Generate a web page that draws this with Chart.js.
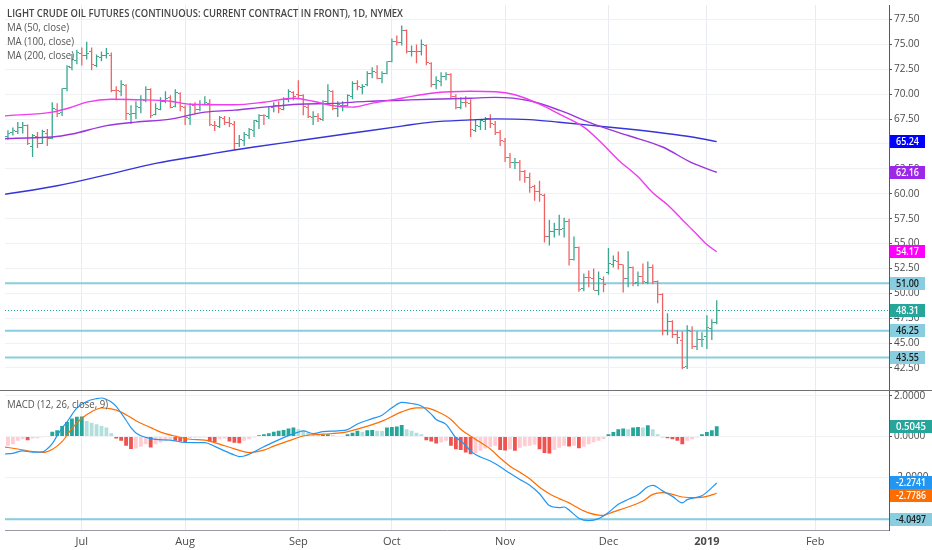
<!DOCTYPE html>
<html lang="en"><head><meta charset="utf-8"><title>Light Crude Oil Futures</title>
<script src="https://cdn.jsdelivr.net/npm/chart.js@4.4.1/dist/chart.umd.min.js"></script>
<style>
html,body{margin:0;padding:0;background:#fff;overflow:hidden}
#wrap{position:relative;width:932px;height:550px}
#c{position:absolute;left:0;top:0;width:932px;height:550px}
.lg{position:absolute;left:7px;white-space:nowrap;font-family:"Open Sans",sans-serif;color:#555;line-height:14px;transform-origin:0 50%}
</style></head>
<body><div id="wrap"><canvas id="c" width="932" height="550"></canvas>
<div class="lg" id="lgTitle" style="top:6px;font-size:10.5px;font-weight:600;color:#454545">LIGHT CRUDE OIL FUTURES (CONTINUOUS: CURRENT CONTRACT IN FRONT), 1D, NYMEX</div>
<div class="lg" id="lg50" style="top:20px;font-size:11px">MA (50, close)</div>
<div class="lg" id="lg100" style="top:34px;font-size:11px">MA (100, close)</div>
<div class="lg" id="lg200" style="top:48px;font-size:11px">MA (200, close)</div>
<div class="lg" id="lgMacd" style="top:397px;font-size:11px">MACD (12, 26, close, 9)</div>
</div>
<script>
// ---- daily bars, index 0 = first visible session (Jun 11, 2018) ----
const opens = [65.73,66.15,66.30,66.70,66.87,64.70,65.80,65.10,66.10,65.60,
  68.50,68.20,70.60,72.70,73.40, 74.10,73.90,74.30,72.90,73.70, 73.90,73.90,70.40,70.30,70.90,
  68.00,68.10,68.70,69.40,70.50, 68.00,68.50,69.30,69.70,68.80, 70.10,
  68.70,67.60,68.90,68.50,69.00, 69.10,66.90,66.80,67.60,67.20, 67.00,65.00,65.40,65.90,66.40,
  67.30,67.90,67.80,68.70,68.90, 68.50,69.50,70.20,
  70.00,69.90,68.70,67.70,67.80, 67.50,69.30,70.30,68.60,68.90, 68.90,69.80,71.10,70.70,71.00,
  72.10,72.20,71.60,72.10,
  73.30,75.30,75.20,76.40,74.30, 74.30,74.30,74.90,73.10,71.00, 71.30,71.80,72.00,69.80,68.70,
  69.20,69.10,66.40,66.80,67.30, 67.60,67.00,66.20,
  65.30,63.60,63.10,63.10,62.20, 61.60,60.70,60.20,59.80,55.70, 56.20,56.40,56.50,57.20,53.40,
  54.60,50.50,51.60,51.50,50.30, 51.40,
  52.10,52.90,53.20,52.90,51.50, 52.60,51.10,51.70,51.10,52.60, 51.20,49.90,46.30,47.20,45.90,
  45.30,42.60,46.20,44.70,45.40, 45.70,46.50,47.10];
const highs = [66.39,66.66,67.20,67.20,66.95,66.00,66.20,66.44,66.50,69.20,
  69.10,70.60,72.90,74.03,74.46, 74.70,75.27,74.70,74.00,74.30, 74.65,74.20,70.80,71.40,71.00,
  68.90,69.30,69.90,70.80,70.60, 69.10,69.70,70.30,69.90,70.50, 70.20,
  68.90,69.10,69.20,69.40,69.80, 69.50,67.30,67.80,67.80,67.70, 67.30,65.90,66.20,66.60,67.40,
  68.00,68.00,68.80,69.20,69.30, 69.70,70.50,70.30,
  71.40,70.00,69.00,68.30,68.10, 69.40,71.00,70.40,69.30,69.30, 70.00,71.30,71.40,71.00,72.30,
  72.70,72.90,72.30,73.30,
  75.60,75.90,76.90,76.50,74.90, 75.00,75.50,75.00,73.20,71.80, 72.20,72.20,72.10,70.00,69.70,
  69.80,69.50,67.50,67.50,67.70, 68.00,67.30,66.40,
  65.60,64.10,63.60,63.40,62.40, 62.10,60.90,61.30,60.00,57.40, 57.10,57.90,57.60,57.50,55.70,
  54.70,52.00,52.30,52.50,52.20, 51.70,
  54.55,53.80,54.20,52.90,54.22, 52.70,52.20,53.00,53.20,52.90, 51.30,50.00,48.00,47.30,46.30,
  46.20,46.80,46.70,46.20,46.10, 47.80,47.40,49.30];
const lows = [65.43,65.85,66.00,66.05,64.90,63.70,64.60,65.00,64.80,65.50,
  67.70,67.80,70.30,72.40,73.00, 72.88,73.50,72.40,72.70,73.30, 73.60,70.20,69.40,69.80,67.40,
  67.00,67.50,68.10,69.20,67.60, 67.90,68.40,69.10,68.60,68.70, 68.30,
  66.90,66.90,68.00,68.30,68.90, 66.80,66.30,66.60,66.90,66.70, 64.43,64.70,64.80,65.50,65.70,
  66.50,66.90,67.50,68.20,68.10, 68.40,69.20,69.40,
  69.50,67.90,67.60,66.90,67.20, 67.30,69.00,68.40,67.70,68.30, 68.80,69.50,70.40,70.00,70.80,
  71.60,71.50,71.10,72.00,
  73.20,74.90,74.90,74.10,73.80, 73.10,73.90,72.90,70.70,70.50, 70.80,71.40,69.60,68.50,68.50,
  68.70,65.70,66.20,66.40,66.40, 66.60,65.90,64.80,
  63.20,62.60,62.50,61.30,61.10, 60.10,59.30,59.20,55.10,54.80, 55.60,55.80,55.60,52.80,53.30,
  50.15,50.20,50.60,50.30,49.80, 50.10,
  51.90,52.60,52.40,50.08,50.60, 50.70,50.70,50.90,50.90,50.90, 49.00,45.80,45.80,45.50,44.90,
  42.36,42.40,44.40,44.30,44.60, 44.40,45.30,46.90];
const closes = [66.10,66.36,66.64,66.89,65.06,65.85,65.07,66.22,65.54,68.58,
  68.08,70.53,72.76,73.45,74.15, 73.94,74.14,72.94,73.80,73.85, 74.11,70.38,70.33,71.01,68.06,
  68.08,68.76,69.46,70.46,67.89, 68.52,69.30,69.61,68.69,70.13, 68.76,
  67.66,68.96,68.49,69.01,69.17, 66.94,66.81,67.63,67.20,67.04, 65.01,65.46,65.91,66.43,67.35,
  67.86,67.83,68.72,68.87,68.53, 69.51,70.25,69.80,
  69.87,68.72,67.77,67.75,67.54, 69.25,70.37,68.59,68.99,68.91, 69.85,71.12,70.80,70.78,72.08,
  72.28,71.57,72.12,73.25,
  75.30,75.23,76.41,74.33,74.34, 74.29,74.96,73.17,70.97,71.34, 71.78,72.02,69.75,68.65,69.12,
  69.17,66.43,66.82,67.33,67.59, 67.04,66.18,65.31,
  63.69,63.14,63.10,62.21,61.67, 60.67,60.19,59.93,55.69,56.25, 56.46,56.46,57.20,53.43,54.63,
  50.42,51.63,51.56,50.29,51.45, 50.93,
  52.95,53.25,52.89,51.49,52.61, 51.00,51.65,51.15,52.58,51.20, 49.88,46.24,47.20,45.88,45.59,
  42.53,46.22,44.61,45.33,45.41, 46.54,47.09,48.31];

const ma50X = [-1,0,9,13,16,21,26,33,37,46,52,58,62,66,70,74,80,86,94,99,103,108,112,117,120,124,128,131,134,137,140,142,144];
const ma50Y = [67.8,67.85,68.2,68.7,69.2,69.5,69.45,69.3,69.0,68.95,69.2,69.6,69.3,68.85,68.7,69.1,69.6,70.1,70.3,70.25,69.95,69.0,68.0,66.7,65.4,63.4,61.7,60.1,58.9,57.4,55.9,54.9,54.17];
const ma100X = [-1,0,9,13,20,26,33,40,46,52,59,66,73,80,86,94,99,106,112,119,126,133,139,144];
const ma100Y = [65.5,65.55,65.7,66.0,66.85,67.2,67.5,68.2,68.4,68.7,69.0,69.08,69.28,69.4,69.5,69.6,69.68,69.34,68.4,67.0,65.85,64.7,63.1,62.16];
const ma200X = [-1,0,10,20,30,40,46,50,60,70,80,86,94,99,106,112,119,126,133,139,144];
const ma200Y = [59.95,60.0,60.8,61.9,63.05,63.9,64.4,64.7,65.4,66.1,66.8,67.2,67.42,67.52,67.45,67.19,66.85,66.5,66.1,65.7,65.24];

// ---- MACD (12, 26, close, 9) ----
const macdX = [-1,1,3,5,7,8,9,10,11,12,13,14,16,18,19,20,21,22,23,24,25,26,28,30,33,36,40,42,44,46,47,48,49,51,53,56,59,60,62,64,67,69,71,74,76,78,80,82,84,86,87,89,91,92,93,94,95,96,98,100,102,104,106,108,110,112,113,114,116,118,120,122,124,126,128,130,131,133,135,137,138,141,142,144];
const macdY = [-0.86,-0.82,-0.70,-0.76,-0.75,-0.60,-0.35,0.05,0.42,0.72,1.08,1.40,1.72,1.86,1.89,1.82,1.70,1.48,1.15,0.80,0.44,0.18,-0.04,-0.14,-0.17,-0.29,-0.30,-0.48,-0.70,-0.90,-0.98,-0.95,-0.86,-0.62,-0.38,-0.05,0.22,0.28,0.15,0.24,0.28,0.34,0.62,0.88,1.05,1.41,1.68,1.62,1.50,1.10,0.84,0.60,-0.05,-0.20,-0.45,-0.70,-0.88,-1.00,-1.20,-1.48,-1.80,-2.10,-2.38,-2.80,-3.38,-3.48,-3.45,-3.60,-4.00,-4.12,-4.02,-3.72,-3.32,-3.08,-2.85,-2.46,-2.39,-2.66,-2.93,-3.25,-3.09,-2.90,-2.72,-2.2741];
const sigX = [-1,2,5,7,9,11,13,15,17,19,21,23,26,29,31,34,37,40,43,46,49,52,54,57,60,64,68,72,76,80,83,85,87,90,92,95,98,100,102,104,106,108,110,112,114,116,118,120,121,123,126,129,131,133,135,137,140,142,144];
const sigY = [-0.50,-0.61,-0.73,-0.78,-0.63,-0.25,0.40,0.90,1.22,1.40,1.36,1.20,0.78,0.44,0.22,0.02,-0.13,-0.17,-0.37,-0.60,-0.78,-0.66,-0.47,-0.21,0.03,0.12,0.19,0.44,0.76,1.21,1.41,1.41,1.25,0.84,0.36,-0.13,-0.61,-1.05,-1.45,-1.75,-2.07,-2.48,-2.80,-3.04,-3.25,-3.52,-3.74,-3.85,-3.86,-3.69,-3.45,-3.16,-2.83,-2.75,-2.83,-2.96,-2.99,-2.93,-2.7786];
const hist = [-0.45,-0.37,-0.21,-0.13,-0.18,-0.10,-0.08,-0.03,-0.01,0.24,
  0.31,0.52,0.71,0.89,0.97,0.99,0.76,0.68,0.60,0.52,
  0.44,0.16,-0.10,-0.21,-0.45,-0.61,-0.58,-0.50,-0.37,-0.53,
  -0.37,-0.29,-0.21,-0.13,-0.20,-0.24,-0.29,-0.08,-0.06,-0.05,
  -0.04,-0.24,-0.26,-0.13,-0.10,-0.24,-0.30,-0.33,-0.21,-0.13,
  -0.05,0.06,0.11,0.16,0.24,0.28,0.32,0.40,0.44,0.36,
  0.28,0.19,0.11,0.08,0.10,0.12,0.06,0.03,0.02,0.11,
  0.19,0.28,0.24,0.31,0.32,0.28,0.27,0.44,0.47,0.49,
  0.57,0.36,0.28,0.19,0.11,-0.18,-0.24,-0.34,-0.29,-0.21,
  -0.45,-0.62,-0.66,-0.78,-0.86,-0.80,-0.70,-0.58,-0.50,-0.45,
  -0.66,-0.68,-0.62,-0.70,-0.55,-0.47,-0.45,-0.40,-0.62,-0.80,
  -0.83,-0.66,-0.55,-0.45,-0.49,-0.45,-0.57,-0.50,-0.38,-0.28,
  -0.20,-0.12,0.11,0.23,0.36,0.39,0.36,0.44,0.47,0.44,
  0.55,0.36,0.11,-0.03,-0.08,-0.13,-0.21,-0.37,-0.21,-0.13,
  -0.05,0.11,0.23,0.31,0.5045];

// ---- axes, ticks, drawn levels ----
const priceTicks = [42.5,45,47.5,50,52.5,55,57.5,60,62.5,65,67.5,70,72.5,75,77.5];
const macdTicks = [2,0,-2,-4];
const monthTickIdx = [15,36,59,78,101,122,142,164];
const monthLabels = ['Jul','Aug','Sep','Oct','Nov','Dec','2019','Feb'];
const priceLevels = [51.00,46.25,43.55];
const macdLevels = [-4.0497];

const UP = '#3aa68e', DOWN = '#ee6464', LEVEL = '#88cde0';
const isUp = i => closes[i] >= opens[i];

function tickCanvas(color, left){
  const c = document.createElement('canvas'); c.width = 5; c.height = 1;
  const g = c.getContext('2d'); g.fillStyle = color; g.fillRect(left ? 0 : 3, 0, 2, 1);
  return c;
}
const tOpenUp = tickCanvas(UP,true), tOpenDn = tickCanvas(DOWN,true);
const tCloseUp = tickCanvas(UP,false), tCloseDn = tickCanvas(DOWN,false);

function histColor(i){
  const v = hist[i], p = i > 0 ? hist[i-1] : v;
  if (v >= 0) return v >= p ? '#26a69a' : '#b2dfdb';
  return v < p ? '#ef5350' : '#ffcdd2';
}
const pts = (xs, ys) => xs.map((x,k) => ({x, y: ys[k]}));

function hLine(ctx, x0, x1, y){ ctx.beginPath(); ctx.moveTo(x0, y); ctx.lineTo(x1, y); ctx.stroke(); }
function drawBadges(ctx, list, w, maxW, digits){
  list.sort((a,b) => a.py - b.py);
  let prev = -1e9;
  for (const b of list){
    let y = b.py; if (y < prev + 13) y = prev + 13; prev = y;
    const top = Math.round(y - 6.5);
    ctx.fillStyle = b.bg; ctx.fillRect(890, top, w, 13);
    ctx.fillStyle = b.fg; ctx.font = '600 10px "Open Sans", sans-serif';
    ctx.textAlign = 'left'; ctx.textBaseline = 'middle';
    ctx.fillText(b.v.toFixed(digits), 896, top + 7, maxW);
  }
}

const overlay = {
  id: 'overlay',
  beforeDatasetsDraw(chart){
    const {ctx, chartArea: a} = chart; const y = chart.scales.y, yM = chart.scales.yM;
    ctx.save();
    ctx.strokeStyle = LEVEL; ctx.lineWidth = 2;
    priceLevels.forEach(v => hLine(ctx, a.left, a.right, y.getPixelForValue(v)));
    macdLevels.forEach(v => hLine(ctx, a.left, a.right, yM.getPixelForValue(v)));
    ctx.strokeStyle = '#26a69a'; ctx.lineWidth = 1; ctx.setLineDash([1,2]);
    hLine(ctx, a.left, a.right, Math.round(y.getPixelForValue(closes[closes.length-1])) + 0.5);
    ctx.restore();
  },
  afterDraw(chart){
    const {ctx} = chart; const y = chart.scales.y, yM = chart.scales.yM;
    ctx.save();
    ctx.strokeStyle = '#707070'; ctx.lineWidth = 1;
    hLine(ctx, 0, chart.width, Math.round(yM.top) - 0.5);
    const mainB = [
      {v: ma200Y[ma200Y.length-1], bg: '#0000ff', fg: '#fff'},
      {v: ma100Y[ma100Y.length-1], bg: '#9c27e8', fg: '#fff'},
      {v: ma50Y[ma50Y.length-1], bg: '#ff00ff', fg: '#fff'},
      {v: closes[closes.length-1], bg: '#26a69a', fg: '#fff'}
    ].concat(priceLevels.map(v => ({v, bg: LEVEL, fg: '#1b1b1b'})));
    mainB.forEach(b => b.py = y.getPixelForValue(b.v));
    drawBadges(ctx, mainB, 35, 23, 2);
    const macdB = [
      {v: hist[hist.length-1], bg: '#26a69a', fg: '#fff'},
      {v: macdY[macdY.length-1], bg: '#2196f3', fg: '#fff'},
      {v: sigY[sigY.length-1], bg: '#ff6d00', fg: '#fff'}
    ].concat(macdLevels.map(v => ({v, bg: LEVEL, fg: '#1b1b1b'})));
    macdB.forEach(b => b.py = yM.getPixelForValue(b.v));
    drawBadges(ctx, macdB, 42, 30, 4);
    ctx.restore();
  }
};

const FONT = "'Open Sans', sans-serif";
const idx = closes.map((_, i) => i);

new Chart(document.getElementById('c'), {
  type: 'line',
  data: { datasets: [
    {type:'line', yAxisID:'y', data: pts(ma50X, ma50Y), borderColor:'#ee3cee', borderWidth:1.4, pointRadius:0, cubicInterpolationMode:'monotone'},
    {type:'line', yAxisID:'y', data: pts(ma100X, ma100Y), borderColor:'#9a35dc', borderWidth:1.4, pointRadius:0, cubicInterpolationMode:'monotone'},
    {type:'line', yAxisID:'y', data: pts(ma200X, ma200Y), borderColor:'#3535d8', borderWidth:1.4, pointRadius:0, cubicInterpolationMode:'monotone'},
    {type:'line', yAxisID:'y', showLine:false, data: idx.map(i => ({x:i, y:opens[i]})), pointRadius:2,
      pointStyle: c => isUp(c.dataIndex) ? tOpenUp : tOpenDn},
    {type:'line', yAxisID:'y', showLine:false, data: idx.map(i => ({x:i, y:closes[i]})), pointRadius:2,
      pointStyle: c => isUp(c.dataIndex) ? tCloseUp : tCloseDn},
    {type:'bar', yAxisID:'y', grouped:false, barThickness:1.3, inflateAmount:0, borderWidth:0,
      data: idx.map(i => ({x:i, y:[lows[i], highs[i]]})),
      backgroundColor: c => isUp(c.dataIndex) ? UP : DOWN},
    {type:'line', yAxisID:'yM', data: pts(macdX, macdY), borderColor:'#2196f3', borderWidth:1.2, pointRadius:0, cubicInterpolationMode:'monotone'},
    {type:'line', yAxisID:'yM', data: pts(sigX, sigY), borderColor:'#ff6d00', borderWidth:1.2, pointRadius:0, cubicInterpolationMode:'monotone'},
    {type:'bar', yAxisID:'yM', grouped:false, barThickness:3.8, inflateAmount:0, borderWidth:0,
      data: hist.map((v,i) => ({x:i, y:v})),
      backgroundColor: c => histColor(c.dataIndex)}
  ]},
  options: {
    responsive:false, animation:false, events:[],
    layout:{padding:0},
    plugins:{legend:{display:false}, tooltip:{enabled:false}, title:{display:false}},
    scales:{
      x:{type:'linear', min:-0.6, max:179, offset:false,
        afterBuildTicks: s => { s.ticks = monthTickIdx.map(v => ({value:v})); },
        afterFit: s => { s.height = 20; s.paddingLeft = 0; s.paddingRight = 0; },
        grid:{color:'#e8ebf0', drawTicks:false, offset:false},
        border:{color:'#9a9ca3'},
        ticks:{padding:5, color:'#4a4a4a', autoSkip:false, maxRotation:0,
          callback:(v, i) => monthLabels[i],
          font: c => ({family:FONT, size:11, weight: /^\d{4}$/.test(monthLabels[c.index]) ? '700' : '400'})}
      },
      y:{type:'linear', position:'right', stack:'panes', stackWeight:39, min:40.155, max:78.963,
        afterBuildTicks: s => { s.ticks = priceTicks.map(v => ({value:v})); },
        afterFit: s => { s.width = 43; s.paddingTop = 0; s.paddingBottom = 0; },
        grid:{color:'#eff1f5', tickColor:'#555', tickLength:3},
        border:{color:'#5a5a5a'},
        ticks:{padding:2, color:'#4a4a4a', autoSkip:false, font:{family:FONT, size:10}, callback: v => v.toFixed(2)}
      },
      yM:{type:'linear', position:'right', stack:'panes', stackWeight:14, min:-4.578, max:2.218,
        afterBuildTicks: s => { s.ticks = macdTicks.map(v => ({value:v})); },
        afterFit: s => { s.width = 43; s.paddingTop = 0; s.paddingBottom = 0; },
        grid:{color:'#eff1f5', tickColor:'#555', tickLength:3},
        border:{color:'#5a5a5a'},
        ticks:{padding:2, color:'#4a4a4a', autoSkip:false, font:{family:FONT, size:10}, callback: v => v.toFixed(4)}
      }
    }
  },
  plugins:[overlay]
});

// fit legend texts to the widths they occupy in the original
[['lgTitle',396],['lg50',62],['lg100',67],['lg200',67],['lgMacd',101]].forEach(([id, w]) => {
  const el = document.getElementById(id);
  const cw = el.getBoundingClientRect().width;
  if (cw > 0) el.style.transform = 'scaleX(' + (w / cw).toFixed(4) + ')';
});
</script>
</body></html>
